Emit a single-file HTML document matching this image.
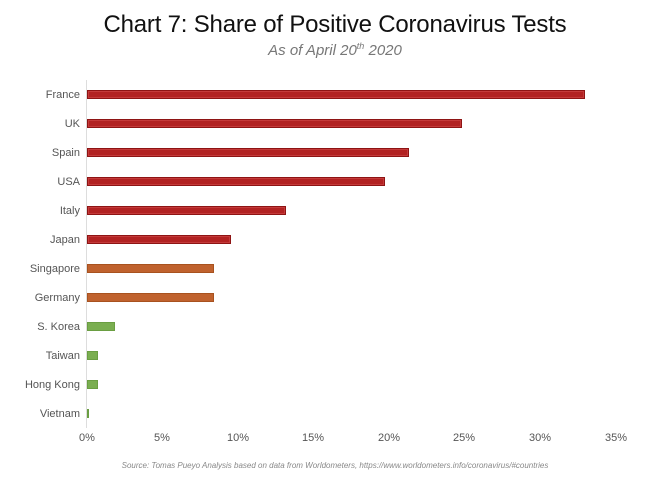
<!DOCTYPE html>
<html><head><style>
body{margin:0;width:670px;height:487px;background:#fff;position:relative;font-family:"Liberation Sans",sans-serif;overflow:hidden}
.t{position:absolute;left:0;width:670px;text-align:center}
.l{position:absolute;right:590px;font-size:11px;color:#555;white-space:nowrap}
.b{position:absolute;left:87px;height:9px;box-sizing:border-box}
.r{background:#b22222;border:1px solid #8e1414;box-shadow:inset 0 0 0 1px #c43a3a}
.o{background:#c0622e;border:1px solid #a8521f}
.g{background:#7aae50;border:1px solid #6a9e42}
.x{position:absolute;top:432px;font-size:11px;color:#555;width:40px;text-align:center}
</style></head><body>
<div class="t" style="top:11px;font-size:24px;color:#111;letter-spacing:-0.2px">Chart 7: Share of Positive Coronavirus Tests</div>
<div class="t" style="top:41px;font-size:15px;color:#777;font-style:italic">As of April 20<sup style="font-size:9px">th</sup> 2020</div>
<div style="position:absolute;left:86px;top:80px;width:1px;height:348px;background:#ddd"></div>
<div class="l" style="top:89px">France</div><div class="b r" style="top:90px;width:498px"></div>
<div class="l" style="top:118px">UK</div><div class="b r" style="top:119px;width:375px"></div>
<div class="l" style="top:147px">Spain</div><div class="b r" style="top:148px;width:322px"></div>
<div class="l" style="top:176px">USA</div><div class="b r" style="top:177px;width:298px"></div>
<div class="l" style="top:205px">Italy</div><div class="b r" style="top:206px;width:199px"></div>
<div class="l" style="top:234px">Japan</div><div class="b r" style="top:235px;width:144px"></div>
<div class="l" style="top:263px">Singapore</div><div class="b o" style="top:264px;width:127px"></div>
<div class="l" style="top:292px">Germany</div><div class="b o" style="top:293px;width:127px"></div>
<div class="l" style="top:321px">S. Korea</div><div class="b g" style="top:322px;width:28px"></div>
<div class="l" style="top:350px">Taiwan</div><div class="b g" style="top:351px;width:11px"></div>
<div class="l" style="top:379px">Hong Kong</div><div class="b g" style="top:380px;width:11px"></div>
<div class="l" style="top:408px">Vietnam</div><div class="b g" style="top:409px;width:2px"></div>
<div class="x" style="left:67px">0%</div>
<div class="x" style="left:142px">5%</div>
<div class="x" style="left:218px">10%</div>
<div class="x" style="left:293px">15%</div>
<div class="x" style="left:369px">20%</div>
<div class="x" style="left:444px">25%</div>
<div class="x" style="left:520px">30%</div>
<div class="x" style="left:596px">35%</div>
<div class="t" style="top:461px;font-size:8px;color:#888;font-style:italic">Source: Tomas Pueyo Analysis based on data from Worldometers, https://www.worldometers.info/coronavirus/#countries</div>
</body></html>
